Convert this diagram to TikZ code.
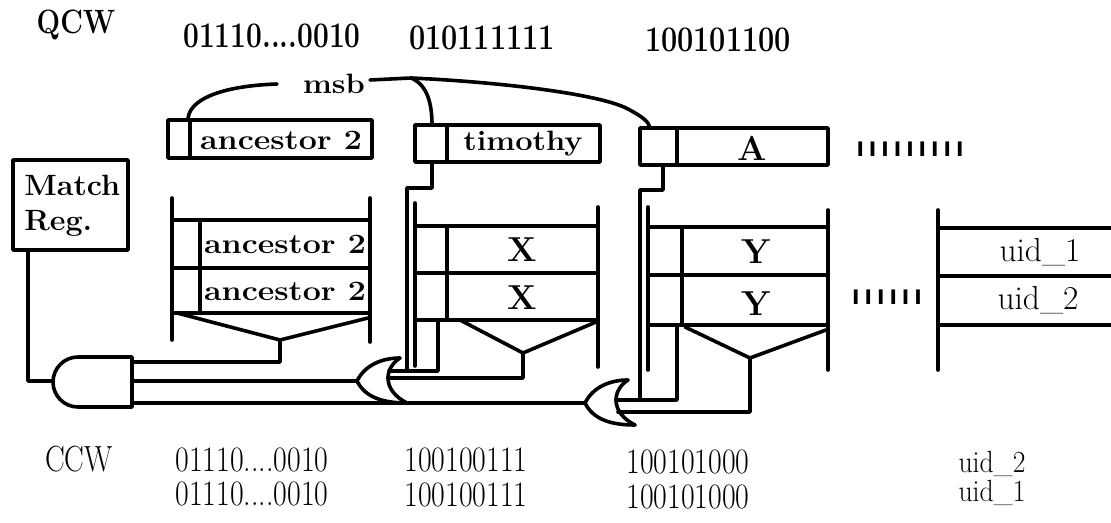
\documentclass[tikz,border=0pt]{standalone}
\usepackage{fontspec}
\usepackage{graphicx}
\newfontfamily\barfont[LetterSpace=25]{DejaVu Sans}
\newcommand{\fsz}[1]{\fontsize{#1}{#1}\selectfont}
\newcommand{\hs}[2]{\scalebox{#1}[1]{#2}}
\tikzset{
  wire/.style={line width=2.7pt, line cap=round, line join=round},
  bl/.style={inner sep=0pt, font=\bfseries\fsz{21}},
  numtop/.style={inner sep=0pt, font=\bfseries\fsz{27}},
  numbot/.style={inner sep=0pt, font=\fsz{26}},
  big/.style={inner sep=0pt, font=\bfseries\fsz{26}},
  uidl/.style={inner sep=0pt, font=\fsz{25}},
  bars/.style={inner sep=0pt, font=\barfont\bfseries\fsz{15}},
  orgate/.pic={
    \draw[wire] (0,0) .. controls (8,-16) and (25,-23) .. (43,-23);
    \draw[wire] (0,0) .. controls (8,16) and (25,22) .. (50,22);
    \draw[wire] (43,-23) .. controls (26,-12) and (26,10) .. (50,22);
  }
}
\begin{document}
\begin{tikzpicture}[x=0.75pt,y=-0.75pt]
\useasboundingbox (0,0) rectangle (1111,523);

% ---- top labels
\node[bl, font=\bfseries\fsz{22}] (qcw) at (76,25) {\scalebox{0.95}[1.15]{QCW}};
\node[numtop] (q1) at (272,36) {\hs{0.78}{01110....0010}};
\node[numtop] (q2) at (482,38) {\hs{0.8}{010111111}};
\node[numtop] (q3) at (718,40) {\hs{0.8}{100101100}};
\node[bl] (msb) at (334,84) {\hs{1.1}{msb}};

% ---- top boxes
\draw[wire] (168,120) rectangle (372,158); \draw[wire] (190,120) -- (190,158);
\node[bl] (t1) at (281,140) {\hs{1.15}{ancestor 2}};
\draw[wire] (415,125) rectangle (600,162); \draw[wire] (447,125) -- (447,162);
\node[bl] (t2) at (523,144) {\hs{1.1}{timothy}};
\draw[wire] (640,128) rectangle (828,165); \draw[wire] (677,128) -- (677,165);
\node[big] (t3) at (752,148) {A};
\node[bars] (b1) at (910,149) {IIIIIIIII};

% ---- msb connectors
\coordinate (m1) at (277,84);
\coordinate (c1) at (188,120);
\coordinate (m2) at (370,80);
\coordinate (m3) at (411,78);
\coordinate (c2) at (432,125);
\coordinate (c3) at (650,128);
\draw[wire] (m1) .. controls (220,86) and (188,100) .. (c1);
\draw[wire] (m2) -- (m3) .. controls (500,82) and (600,94) .. (628,109) .. controls (643,117) and (649,122) .. (c3);
\draw[wire] (m3) .. controls (428,85) and (432,105) .. (c2);

% ---- match register
\draw[wire] (13,160) rectangle (128,250);
\node[bl, anchor=base west, font=\bfseries\fsz{22}] (mr1) at (24,196) {\hs{1.04}{Match}};
\node[bl, anchor=base west, font=\bfseries\fsz{22}] (mr2) at (24,231) {\hs{1.04}{Reg.}};

% ---- AND gate (facing left)
\draw[wire] (132,357) -- (78,357) .. controls (64.2,357) and (53,368.2) .. (53,382)
  .. controls (53,395.8) and (64.2,407) .. (78,407) -- (132,407) -- cycle;
\coordinate (andout) at (53,381);
\coordinate (mrout) at (28,250);
\draw[wire] (mrout) |- (andout);

% ---- ancestor stack
\draw[wire] (172,198) -- (172,340);
\draw[wire] (370,198) -- (370,342);
\foreach \yy in {220,268,313} \draw[wire] (172,\yy) -- (370,\yy);
\draw[wire] (200,220) -- (200,313);
\draw[wire] (177,313) -- (280,340) -- (368,318);
\node[bl] (a1) at (285,244) {\hs{1.15}{ancestor 2}};
\node[bl] (a2) at (285,291) {\hs{1.15}{ancestor 2}};
\coordinate (ap) at (280,340);
\coordinate (andin1) at (132,362);
\draw[wire] (ap) |- (andin1);

% ---- X stack
\draw[wire] (415,203) -- (415,366);
\draw[wire] (598,207) -- (598,367);
\foreach \yy in {226,273,320} \draw[wire] (415,\yy) -- (598,\yy);
\draw[wire] (447,226) -- (447,320);
\draw[wire] (460,320) -- (523,353) -- (596,322);
\node[big] (x1) at (522,250) {X};
\node[big] (x2) at (522,298) {X};

% ---- Y stack
\draw[wire] (648,207) -- (648,370);
\draw[wire] (828,210) -- (828,370);
\foreach \yy in {227,275,325} \draw[wire] (648,\yy) -- (828,\yy);
\draw[wire] (682,227) -- (682,325);
\draw[wire] (685,327) -- (750,358) -- (826,330);
\node[big] (y1) at (756,252) {Y};
\node[big] (y2) at (756,304) {Y};
\node[bars] (b2) at (887,297) {IIIIII};

% ---- right stack
\draw[wire] (938,210) -- (938,370);
\foreach \yy in {228,276,325} \draw[wire] (938,\yy) -- (1111,\yy);
\node[uidl] (u1) at (1040,252) {uid\_1};
\node[uidl] (u2) at (1038,300) {uid\_2};

% ---- OR gates
\pic at (357,381) {orgate};
\pic at (585,403) {orgate};
\coordinate (or1out) at (357,381);
\coordinate (or2out) at (585,403);
\coordinate (andin2) at (132,381);
\coordinate (andin3) at (132,403);
\draw[wire] (or1out) -- (andin2);
\draw[wire] (or2out) -- (andin3);

% timothy msb wire and X column
\coordinate (tb) at (432,162);
\coordinate (or1a) at (389,371);
\coordinate (or1b) at (388,378);
\draw[wire] (tb) -- (432,188) -- (407,188) -- (407,371);
\draw[wire] (or1a) -- (438,371) -- (438,320);
\coordinate (xp) at (523,353);
\draw[wire] (xp) |- (or1b);

% A msb wire and Y column
\coordinate (ab) at (663,165);
\coordinate (or2a) at (616,400);
\coordinate (or2b) at (618,412);
\draw[wire] (ab) -- (663,190) -- (640,190) -- (640,400);
\draw[wire] (or2a) -- (677,400) -- (677,325);
\coordinate (yp) at (750,358);
\draw[wire] (yp) |- (or2b);

% ---- bottom labels
\node[numbot] (ccw) at (79,459) {\scalebox{0.85}[1.05]{CCW}};
\node[numbot] (c11) at (252,460) {\scalebox{0.86}[1.03]{01110....0010}};
\node[numbot] (c12) at (466,460) {\scalebox{0.86}[1.03]{100100111}};
\node[numbot] (c13) at (688,462) {\scalebox{0.86}[1.03]{100101000}};
\node[numbot] (c21) at (252,494) {\scalebox{0.86}[1.03]{01110....0010}};
\node[numbot] (c22) at (466,495) {\scalebox{0.86}[1.03]{100100111}};
\node[numbot] (c23) at (688,497) {\scalebox{0.86}[1.03]{100101000}};
\node[uidl, font=\fsz{23}] (cu2) at (992,464) {\hs{0.9}{uid\_2}};
\node[uidl, font=\fsz{23}] (cu1) at (992,493) {\hs{0.9}{uid\_1}};
\end{tikzpicture}
\end{document}
